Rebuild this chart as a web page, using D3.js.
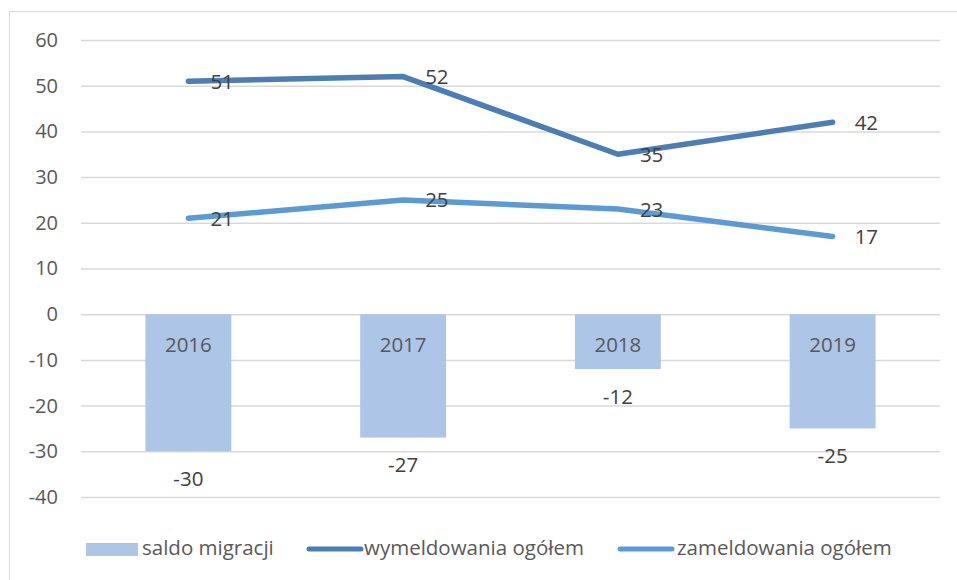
<!DOCTYPE html>
<html><head><meta charset="utf-8">
<script src="https://cdn.jsdelivr.net/npm/d3@7"></script>
<style>body{margin:0;background:#fff}svg{display:block;font-family:"Open Sans",sans-serif}</style>
</head><body>
<svg id="c" width="957" height="580"></svg>
<script>
const categories = ["2016","2017","2018","2019"];
const saldo = [-30,-27,-12,-25];
const wymeldowania = [51,52,35,42];
const zameldowania = [21,25,23,17];
const yTicks = [60,50,40,30,20,10,0,-10,-20,-30,-40];
const seriesNames = ["saldo migracji","wymeldowania ogółem","zameldowania ogółem"];

const FONT = "'Open Sans',sans-serif";
const svg = d3.select("#c");
svg.append("rect").attr("x",9.5).attr("y",11.5).attr("width",960).attr("height",580)
  .attr("fill","none").attr("stroke","#d9d9d9");

const x = d3.scaleBand().domain(categories).range([81,940]).paddingInner(0.6).paddingOuter(0.3);
const xc = d => x(d)+x.bandwidth()/2;
const y = d3.scaleLinear().domain([-40,60]).range([497,40]);

const yAxis = svg.append("g").attr("transform","translate(81,0)")
  .call(d3.axisLeft(y).tickValues(yTicks).tickSize(-859).tickPadding(23).tickFormat(d => String(d)));
yAxis.select(".domain").remove();
yAxis.selectAll(".tick line").attr("stroke","#d9d9d9").attr("stroke-width",1.5);
yAxis.selectAll(".tick text").attr("fill","#595959").style("font-size","20px").style("font-family",FONT);

const C_BAR="#adc5e7", C_W="#4a7eb4", C_Z="#5b9bd5";

svg.selectAll(".bar").data(categories).enter().append("rect")
  .attr("x",d=>x(d)).attr("width",x.bandwidth())
  .attr("y",(d,i)=>y(Math.max(0,saldo[i]))).attr("height",(d,i)=>Math.abs(y(saldo[i])-y(0)))
  .attr("fill",C_BAR);

svg.selectAll(".cat").data(categories).enter().append("text")
  .attr("x",d=>xc(d)).attr("y",y(0)+32).attr("text-anchor","middle").attr("dominant-baseline","middle")
  .attr("fill","#595959").style("font-size","20.5px").text(d=>d);

svg.selectAll(".bl").data(categories).enter().append("text")
  .attr("x",d=>xc(d)).attr("y",(d,i)=>y(saldo[i])+29).attr("text-anchor","middle").attr("dominant-baseline","middle")
  .attr("fill","#404040").style("font-size","20.5px").text((d,i)=>String(saldo[i]));

const line = d3.line().x((d,i)=>xc(categories[i])).y(d=>y(d));
[[wymeldowania,C_W],[zameldowania,C_Z]].forEach(([vals,col])=>{
  svg.append("path").datum(vals).attr("d",line).attr("fill","none").attr("stroke",col)
    .attr("stroke-width",5.5).attr("stroke-linecap","round").attr("stroke-linejoin","round");
  svg.selectAll(null).data(vals).enter().append("text")
    .attr("x",(d,i)=>xc(categories[i])+22).attr("y",d=>y(d)+2).attr("dominant-baseline","middle")
    .attr("fill","#404040").style("font-size","20.5px").text(d=>d);
});

// legend
const lg = svg.append("g");
lg.append("rect").attr("x",86).attr("y",543).attr("width",52).attr("height",13).attr("fill",C_BAR);
lg.append("text").attr("x",142).attr("y",550).attr("dominant-baseline","middle").attr("fill","#595959").style("font-size","20.5px").text(seriesNames[0]);
lg.append("line").attr("x1",309).attr("x2",361).attr("y1",549).attr("y2",549).attr("stroke",C_W).attr("stroke-width",5).attr("stroke-linecap","round");
lg.append("text").attr("x",364).attr("y",550).attr("dominant-baseline","middle").attr("fill","#595959").style("font-size","20.5px").text(seriesNames[1]);
lg.append("line").attr("x1",620).attr("x2",672).attr("y1",549).attr("y2",549).attr("stroke",C_Z).attr("stroke-width",5).attr("stroke-linecap","round");
lg.append("text").attr("x",677).attr("y",550).attr("dominant-baseline","middle").attr("fill","#595959").style("font-size","20.5px").text(seriesNames[2]);
</script>
</body></html>
